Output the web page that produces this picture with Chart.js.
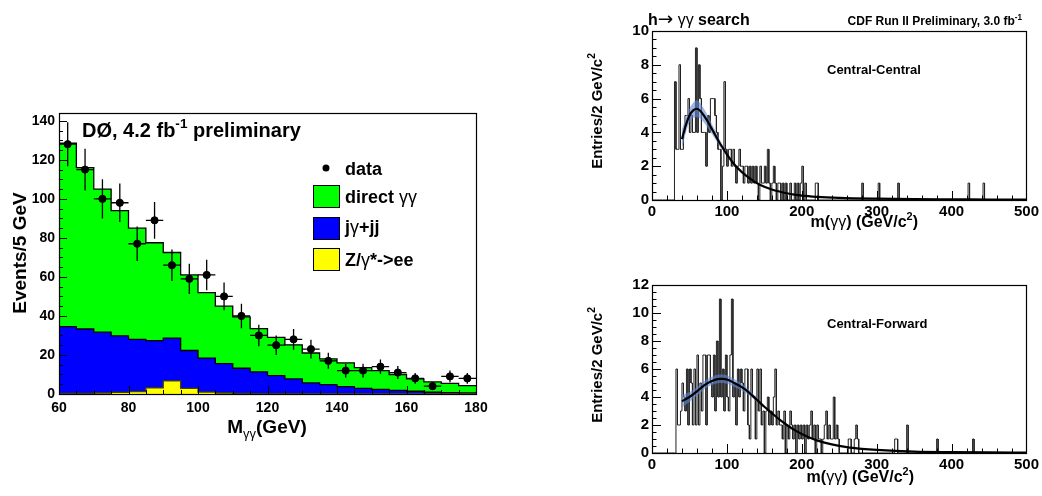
<!DOCTYPE html>
<html>
<head>
<meta charset="utf-8">
<script src="https://cdn.jsdelivr.net/npm/chart.js@4.4.0/dist/chart.umd.min.js"></script>
<style>
  body { margin: 0; background: #fff; width: 1042px; height: 496px; overflow: hidden; position: relative; }
  canvas { position: absolute; }
</style>
</head>
<body>
<canvas id="d0" width="540" height="496" style="left:0;top:0;width:540px;height:496px"></canvas>
<canvas id="cc" width="482" height="248" style="left:560px;top:0;width:482px;height:248px"></canvas>
<canvas id="cf" width="482" height="248" style="left:560px;top:248px;width:482px;height:248px"></canvas>
<script>
const FONT = '"Liberation Sans", Arial, Helvetica, sans-serif';

// ---- D0 diphoton mass, 5 GeV bins from 60 to 180
const d0BinLow = [60, 65, 70, 75, 80, 85, 90, 95, 100, 105, 110, 115, 120, 125, 130, 135, 140, 145, 150, 155, 160, 165, 170, 175];
const d0BinWidth = 5;
// stacked tops as drawn (Z/γ* at bottom, jets on top of it, direct γγ on top)
const d0TopTotal = [128.5, 116, 105, 94, 85, 77.5, 72.5, 61, 52, 45, 39.5, 33.5, 29, 25.2, 21, 18, 15.9, 13.5, 12, 10, 7.7, 6.2, 5.4, 4.3];
const d0TopJets = [34.5, 33.3, 31.7, 29.8, 28, 27.4, 28.6, 22.3, 18.4, 15.6, 13.2, 11.3, 9.4, 7.7, 5.7, 4.8, 3.8, 2.9, 2.4, 1.9, 1.4, 1.0, 0.7, 0.5];
const d0TopZee = [0.3, 0.3, 0.5, 0.8, 1.2, 3.1, 6.7, 2.9, 1.0, 0.5, 0.3, 0.2, 0.2, 0.2, 0.1, 0.1, 0.1, 0.1, 0.1, 0.1, 0.1, 0.1, 0.1, 0.1];
const d0Data = [128, 115, 100, 98, 77, 89, 66, 59, 61, 50, 40, 30, 25, 28, 23, 17, 12, 12, 14, 11, 8, 4, 9, 8];
const d0Err = [11.3, 10.7, 10, 9.9, 8.8, 9.4, 8.1, 7.7, 7.8, 7.1, 6.3, 5.5, 5, 5.3, 4.8, 4.1, 3.5, 3.5, 3.7, 3.3, 2.8, 2, 3, 2.8];

// ---- CDF, 2 GeV bins from 0 to 500
const cdfBinWidth = 2;
const ccFirstBin = 30;
const ccCounts = [7, 3, 3, 8, 3, 3, 4, 5, 5, 6,
  4, 5, 4, 4, 9, 4, 8, 6, 4, 4,
  4, 2, 5, 4, 6, 6, 6, 5, 4, 3,
  3, 0, 2, 7, 3, 2, 3, 3, 2, 3,
  2, 1, 2, 3, 2, 2, 1, 2, 2, 1,
  2, 1, 2, 1, 2, 1, 0, 2, 1, 1,
  2, 1, 3, 1, 0, 1, 2, 1, 0, 1,
  1, 0, 1, 0, 1, 0, 0, 1, 0, 0,
  1, 0, 1, 0, 1, 2, 0, 1, 0, 0,
  0, 0, 0, 0, 1, 1];
const ccTailMass = [280, 302, 328, 422, 442];
const ccTailCount = [1, 1, 1, 1, 1];
const ccFitMass = [40, 45, 50, 55, 60, 65, 70, 75, 80, 85, 90, 95, 100, 110, 120, 130, 140, 150, 160, 170, 180, 190, 200, 220, 250, 300, 350, 400, 450, 500];
const ccFitVal = [3.6, 4.4, 5.0, 5.3, 5.4, 5.25, 4.95, 4.6, 4.2, 3.8, 3.4, 3.05, 2.7, 2.1, 1.65, 1.3, 1.0, 0.78, 0.62, 0.5, 0.4, 0.32, 0.26, 0.19, 0.13, 0.08, 0.05, 0.04, 0.03, 0.02];
const ccBandMass = [40, 45, 50, 55, 60, 65, 70, 75, 80, 85, 90, 95];
const ccBandLow = [3.0, 3.95, 4.6, 4.85, 4.9, 4.8, 4.55, 4.25, 3.9, 3.55, 3.2, 2.9];
const ccBandHigh = [4.2, 4.85, 5.4, 5.75, 5.9, 5.7, 5.35, 4.95, 4.5, 4.05, 3.6, 3.2];

const cfFirstBin = 32;
const cfCounts = [6, 2, 2, 3, 5, 4, 3, 6, 2, 6,
  5, 2, 6, 2, 7, 2, 5, 3, 7, 7,
  2, 7, 7, 5, 4, 7, 3, 8, 4, 11,
  4, 6, 3, 7, 4, 3, 7, 11, 4, 5,
  2, 6, 4, 6, 5, 3, 6, 6, 2, 1,
  6, 4, 4, 1, 6, 3, 6, 2, 3, 0,
  3, 4, 2, 3, 2, 4, 6, 2, 3, 2,
  2, 1, 3, 0, 2, 1, 3, 2, 1, 2,
  0, 2, 1, 2, 1, 2, 0, 2, 1, 2,
  3, 1, 2, 0, 2, 1, 1, 0, 1, 2,
  3, 1, 2, 1, 1, 4, 1, 2, 1, 0,
  0, 0, 0, 0, 0, 1, 1, 0, 0, 1,
  2, 1];
const cfTailMass = [324, 326, 340, 380, 428];
const cfTailCount = [1, 1, 2, 1, 1];
const cfFitMass = [40, 50, 60, 70, 80, 90, 95, 100, 110, 120, 130, 140, 150, 160, 170, 180, 190, 200, 210, 220, 240, 260, 280, 300, 350, 400, 450, 500];
const cfFitVal = [3.7, 4.0, 4.4, 4.85, 5.15, 5.3, 5.3, 5.25, 5.0, 4.7, 4.3, 3.8, 3.3, 2.85, 2.4, 2.0, 1.65, 1.35, 1.1, 0.9, 0.62, 0.42, 0.3, 0.22, 0.1, 0.06, 0.04, 0.03];
const cfBandMass = [40, 50, 60, 70, 80, 90, 100, 110, 120, 130, 140];
const cfBandLow = [3.25, 3.65, 4.1, 4.55, 4.85, 5.0, 4.95, 4.72, 4.45, 4.1, 3.65];
const cfBandHigh = [4.15, 4.35, 4.7, 5.15, 5.45, 5.6, 5.55, 5.28, 4.95, 4.5, 3.95];

// histogram outline points: two per bin so the line steps
function stepPoints(lows, width, values) {
  const pts = [];
  lows.forEach((lo, i) => {
    pts.push({ x: lo, y: values[i] });
    pts.push({ x: lo + width, y: values[i] });
  });
  return pts;
}

function cdfBins(first, counts, tailMass, tailCount) {
  const n = 500 / cdfBinWidth;
  const vals = new Array(n).fill(0);
  counts.forEach((c, i) => { vals[first / cdfBinWidth + i] = c; });
  tailMass.forEach((m, i) => { vals[m / cdfBinWidth] = tailCount[i]; });
  const lows = vals.map((v, i) => i * cdfBinWidth);
  return stepPoints(lows, cdfBinWidth, vals);
}

function xy(xs, ys) {
  return xs.map((x, i) => ({ x: x, y: ys[i] }));
}

// text with super/subscripts; Greek letters drawn light like ROOT's Symbol font
function richText(ctx, parts, x, y, size, align, rotate) {
  ctx.save();
  ctx.translate(x, y);
  if (rotate) ctx.rotate(-Math.PI / 2);
  const fontFor = p => {
    let s = (p.sup || p.sub) ? size * 0.68 : size;
    if (p.s) s *= p.s;
    return (p.w || 'bold') + ' ' + s + 'px ' + (p.f || FONT);
  };
  const widths = parts.map(p => { ctx.font = fontFor(p); return ctx.measureText(p.t).width; });
  const total = widths.reduce((a, b) => a + b, 0);
  let cx = align === 'right' ? -total : align === 'center' ? -total / 2 : 0;
  ctx.fillStyle = '#000';
  ctx.textAlign = 'left';
  ctx.textBaseline = 'alphabetic';
  parts.forEach((p, i) => {
    ctx.font = fontFor(p);
    const dy = p.sup ? -size * 0.45 : p.sub ? size * 0.28 : 0;
    ctx.fillText(p.t, cx, dy);
    cx += widths[i];
  });
  ctx.restore();
}

// ROOT-like frame with inside tick marks
const rootAxes = {
  id: 'rootAxes',
  afterDatasetsDraw(chart, args, o) {
    const { ctx, chartArea: a, scales: { x, y } } = chart;
    const isMajor = (v, step) => Math.abs(v / step - Math.round(v / step)) < 1e-6;
    ctx.save();
    ctx.strokeStyle = '#000';
    ctx.lineWidth = 1;
    ctx.beginPath();
    for (let v = x.min; v <= x.max + 1e-9; v += o.xMinor) {
      const px = Math.round(x.getPixelForValue(v)) + 0.5;
      const len = isMajor(v, o.xMajor) ? o.majLen : o.minLen;
      ctx.moveTo(px, a.bottom);
      ctx.lineTo(px, a.bottom - len);
    }
    for (let v = y.min; v <= y.max + 1e-9; v += o.yMinor) {
      const py = Math.round(y.getPixelForValue(v)) + 0.5;
      const len = isMajor(v, o.yMajor) ? o.majLen : o.minLen;
      ctx.moveTo(a.left, py);
      ctx.lineTo(a.left + len, py);
    }
    ctx.stroke();
    ctx.lineWidth = 1.2;
    ctx.strokeRect(Math.round(a.left) + 0.5, Math.round(a.top) + 0.5, Math.round(a.right - a.left), Math.round(a.bottom - a.top));
    ctx.restore();
  }
};

function axisFont(size) {
  return { family: FONT, size: size, weight: 'bold' };
}

const GG = { t: 'γγ', w: 'normal' };

// ---------------- left: D0 ----------------
const d0ErrorBars = {
  id: 'd0ErrorBars',
  afterDatasetsDraw(chart) {
    const { ctx, scales: { x, y } } = chart;
    ctx.save();
    ctx.strokeStyle = '#000';
    ctx.lineWidth = 1.3;
    ctx.beginPath();
    d0BinLow.forEach((lo, i) => {
      const c = lo + d0BinWidth / 2;
      const px = x.getPixelForValue(c);
      const py = y.getPixelForValue(d0Data[i]);
      ctx.moveTo(px, y.getPixelForValue(d0Data[i] - d0Err[i]));
      ctx.lineTo(px, y.getPixelForValue(d0Data[i] + d0Err[i]));
      ctx.moveTo(x.getPixelForValue(lo), py);
      ctx.lineTo(x.getPixelForValue(lo + d0BinWidth), py);
    });
    ctx.stroke();
    ctx.restore();
  }
};

const d0Texts = {
  id: 'd0Texts',
  afterDraw(chart) {
    const ctx = chart.ctx;
    richText(ctx, [{ t: 'DØ, 4.2 fb' }, { t: '-1', sup: true }, { t: ' preliminary' }], 82, 137, 20, 'left');
    // legend
    ctx.save();
    ctx.fillStyle = '#000';
    ctx.beginPath();
    ctx.arc(326, 168, 3.5, 0, Math.PI * 2);
    ctx.fill();
    const boxes = [['#00ff00', 185], ['#0000ff', 217], ['#ffff00', 248]];
    ctx.lineWidth = 1;
    ctx.strokeStyle = '#000';
    boxes.forEach(b => {
      ctx.fillStyle = b[0];
      ctx.fillRect(313, b[1], 26, 22);
      ctx.strokeRect(313.5, b[1] + 0.5, 26, 22);
    });
    ctx.restore();
    richText(ctx, [{ t: 'data' }], 345, 175, 18, 'left');
    richText(ctx, [{ t: 'direct ' }, GG], 345, 203, 18, 'left');
    richText(ctx, [{ t: 'j' }, { t: 'γ', w: 'normal' }, { t: '+jj' }], 345, 233, 18, 'left');
    richText(ctx, [{ t: 'Z/' }, { t: 'γ', w: 'normal' }, { t: '*->ee' }], 345, 266, 18, 'left');
    // axis titles
    richText(ctx, [{ t: 'M' }, { t: 'γγ', sub: true, w: 'normal' }, { t: '(GeV)' }], 267, 433, 19, 'center');
    richText(ctx, [{ t: 'Events/5 GeV' }], 26, 253, 19, 'center', true);
  }
};

function histDataset(label, tops, fillColor, lineColor, order) {
  return {
    label: label,
    data: stepPoints(d0BinLow, d0BinWidth, tops),
    borderColor: lineColor,
    borderWidth: 1.3,
    backgroundColor: fillColor,
    fill: 'origin',
    pointRadius: 0,
    tension: 0,
    order: order
  };
}

new Chart(document.getElementById('d0'), {
  type: 'line',
  data: {
    datasets: [
      {
        label: 'data',
        data: xy(d0BinLow.map(lo => lo + d0BinWidth / 2), d0Data),
        showLine: false,
        pointRadius: 3.6,
        pointBackgroundColor: '#000',
        pointBorderColor: '#000',
        order: 0
      },
      histDataset('Z/γ*->ee', d0TopZee, '#ffff00', '#444400', 1),
      histDataset('jγ+jj', d0TopJets, '#0000ff', '#000', 2),
      histDataset('direct γγ', d0TopTotal, '#00ff00', '#000', 3)
    ]
  },
  options: {
    responsive: false,
    animation: false,
    layout: { padding: { left: 0, right: 64, top: 113, bottom: 0 } },
    plugins: {
      legend: { display: false },
      tooltip: { enabled: false },
      rootAxes: { xMajor: 20, xMinor: 5, yMajor: 20, yMinor: 5, majLen: 8, minLen: 4 }
    },
    scales: {
      x: {
        type: 'linear', min: 60, max: 180,
        afterFit: s => { s.height = 102; },
        ticks: { stepSize: 20, padding: 6, color: '#000', font: axisFont(14), maxRotation: 0, autoSkip: false, includeBounds: false },
        grid: { display: false, drawTicks: false },
        border: { display: false }
      },
      y: {
        min: 0, max: 144,
        afterFit: s => { s.width = 59; },
        ticks: { stepSize: 20, padding: 4, color: '#000', font: axisFont(14), includeBounds: false },
        grid: { display: false, drawTicks: false },
        border: { display: false }
      }
    }
  },
  plugins: [rootAxes, d0ErrorBars, d0Texts]
});

// ---------------- right: CDF ----------------
function cdfChart(id, points, fitMass, fitVal, bandMass, bandLow, bandHigh, yMax, padTop, xHeight, texts) {
  return new Chart(document.getElementById(id), {
    type: 'line',
    data: {
      datasets: [
        { label: 'fit', data: xy(fitMass, fitVal), borderColor: '#000', borderWidth: 2.2, pointRadius: 0, fill: false, cubicInterpolationMode: 'monotone' },
        { label: 'band low', data: xy(bandMass, bandLow), borderColor: 'rgba(0,0,0,0)', borderWidth: 0, pointRadius: 0, fill: false, cubicInterpolationMode: 'monotone' },
        { label: 'band high', data: xy(bandMass, bandHigh), borderColor: 'rgba(0,0,0,0)', borderWidth: 0, pointRadius: 0, fill: '-1', backgroundColor: 'rgba(95,135,210,0.6)', cubicInterpolationMode: 'monotone' },
        { label: 'data', data: points, borderColor: '#222', borderWidth: 1, pointRadius: 0, fill: false, tension: 0 }
      ]
    },
    options: {
      responsive: false,
      animation: false,
      layout: { padding: { left: 0, right: 12, top: padTop, bottom: 0 } },
      plugins: {
        legend: { display: false },
        tooltip: { enabled: false },
        rootAxes: { xMajor: 100, xMinor: 20, yMajor: 2, yMinor: 0.5, majLen: 9, minLen: 4.5 }
      },
      scales: {
        x: {
          type: 'linear', min: 0, max: 500,
          afterFit: s => { s.height = xHeight; },
          ticks: { stepSize: 100, padding: 3, color: '#000', font: axisFont(15), maxRotation: 0, autoSkip: false, includeBounds: false },
          grid: { display: false, drawTicks: false },
          border: { display: false }
        },
        y: {
          min: 0, max: yMax,
          afterFit: s => { s.width = 92; },
          ticks: { stepSize: 2, padding: 3, color: '#000', font: axisFont(15), includeBounds: false },
          grid: { display: false, drawTicks: false },
          border: { display: false }
        }
      }
    },
    plugins: [rootAxes, { id: id + 'Texts', afterDraw: chart => texts(chart.ctx) }]
  });
}

const massTitle = [{ t: 'm(' }, GG, { t: ') (GeV/c' }, { t: '2', sup: true }, { t: ')' }];
const entriesTitle = [{ t: 'Entries/2 GeV/c' }, { t: '2', sup: true }];

cdfChart('cc', cdfBins(ccFirstBin, ccCounts, ccTailMass, ccTailCount),
  ccFitMass, ccFitVal, ccBandMass, ccBandLow, ccBandHigh, 10, 31, 48, ctx => {
    richText(ctx, [{ t: 'h' }, { t: '\u2192', w: 'normal', f: '"DejaVu Sans"', s: 1.15 }, { t: ' ' }, GG, { t: ' search' }], 88, 25, 16, 'left');
    richText(ctx, [{ t: 'CDF Run II Preliminary, 3.0 fb' }, { t: '-1', sup: true }], 462, 25, 12, 'right');
    richText(ctx, [{ t: 'Central-Central' }], 267, 74, 13, 'left');
    richText(ctx, entriesTitle, 42, 111, 15, 'center', true);
    richText(ctx, massTitle, 358, 227, 16, 'right');
  });

cdfChart('cf', cdfBins(cfFirstBin, cfCounts, cfTailMass, cfTailCount),
  cfFitMass, cfFitVal, cfBandMass, cfBandLow, cfBandHigh, 12, 37, 43, ctx => {
    richText(ctx, [{ t: 'Central-Forward' }], 267, 80, 13, 'left');
    richText(ctx, entriesTitle, 42, 117, 15, 'center', true);
    richText(ctx, massTitle, 354, 234, 16, 'right');
  });
</script>
</body>
</html>
